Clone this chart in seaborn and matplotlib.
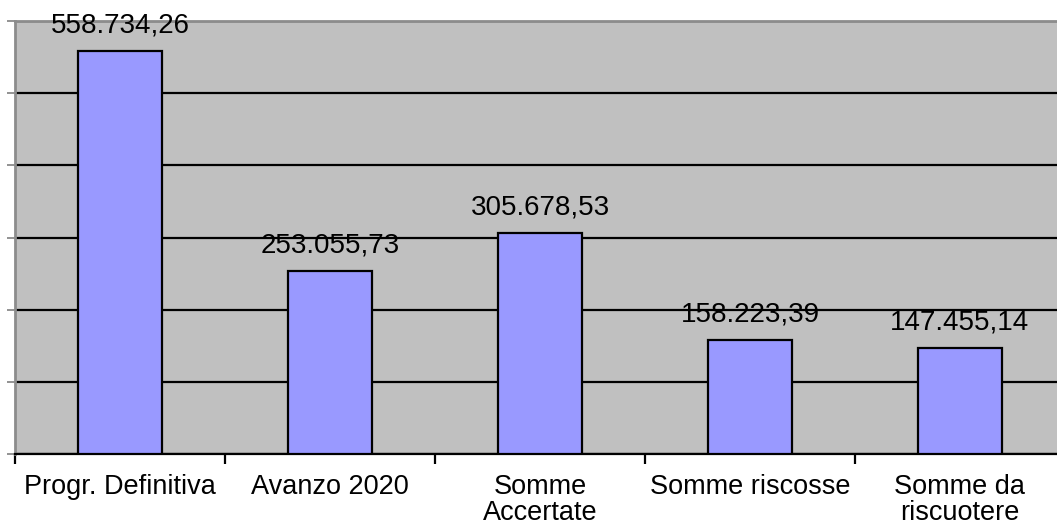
import numpy as np
import pandas as pd
import matplotlib
matplotlib.use('Agg')
import matplotlib.pyplot as plt
import seaborn as sns

categories = ['Progr. Definitiva', 'Avanzo 2020', 'Somme\nAccertate', 'Somme riscosse', 'Somme da\nriscuotere']
values = [558734.26, 253055.73, 305678.53, 158223.39, 147455.14]
value_labels = ['558.734,26', '253.055,73', '305.678,53', '158.223,39', '147.455,14']

df = pd.DataFrame({'cat': categories, 'val': values})

sns.set_style('white')
plt.rcParams['font.family'] = ['Liberation Sans', 'DejaVu Sans']
plt.rcParams['text.color'] = 'black'
plt.rcParams['xtick.color'] = 'black'

fig = plt.figure(figsize=(10.57, 5.27), dpi=100)
ax = fig.add_axes([15 / 1057, 73 / 527, 1050 / 1057, 433 / 527])
ax.set_facecolor('#C0C0C0')

sns.barplot(data=df, x='cat', y='val', color='#9999FF', edgecolor='black',
            linewidth=1.6, width=0.4, saturation=1, ax=ax, zorder=3)

ax.set_xlim(-0.5, 4.5)
ax.set_ylim(0, 600000)
ax.set_yticks(np.arange(0, 600001, 100000))
ax.set_yticklabels([])
ax.yaxis.grid(True, color='black', linewidth=1.6, zorder=1)
ax.set_axisbelow(True)
ax.tick_params(axis='y', left=True, length=6, width=1.2, color='#808080')

ax.set_xticks(np.arange(5))
ax.set_xticklabels(categories, fontsize=19.5, linespacing=1.0, color='black')
ax.set_xticks(np.arange(-0.5, 5, 1), minor=True)
ax.tick_params(axis='x', which='major', bottom=False, pad=11)
ax.tick_params(axis='x', which='minor', bottom=True, length=7, width=1.6, color='black')
ax.set_xlabel('')
ax.set_ylabel('')

for s in ['top', 'left', 'right']:
    ax.spines[s].set_color('#8C8C8C')
    ax.spines[s].set_linewidth(2)
ax.spines['bottom'].set_color('black')
ax.spines['bottom'].set_linewidth(1.6)

for i, (v, lab) in enumerate(zip(values, value_labels)):
    ax.annotate(lab, (i, v), xytext=(0, 9), textcoords='offset points',
                ha='center', va='bottom', fontsize=20, color='black',
                zorder=5, annotation_clip=False)

fig.savefig('out.png', dpi=100)
